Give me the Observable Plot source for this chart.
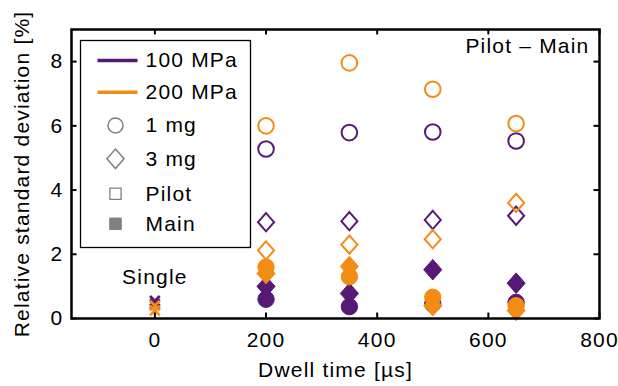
<!DOCTYPE html>
<html>
<head>
<meta charset="utf-8">
<script src="https://cdn.jsdelivr.net/npm/d3@7"></script>
<script src="https://cdn.jsdelivr.net/npm/@observablehq/plot@0.6"></script>
<style>
  html, body { margin: 0; padding: 0; background: #fff; }
</style>
</head>
<body>
<div id="chart"></div>
<script>
// ---- data ----
const xTicks = [0, 200, 400, 600, 800];
const yTicks = [0, 2, 4, 6, 8];
const dwell = [200, 350, 500, 650];

const rsd100_1mg_pilot = [5.28, 5.79, 5.81, 5.53];
const rsd100_3mg_pilot = [3.0, 3.03, 3.07, 3.2];
const rsd100_1mg_main  = [0.6, 0.37, 0.45, 0.5];
const rsd100_3mg_main  = [1.0, 0.78, 1.52, 1.1];

const rsd200_1mg_pilot = [6.0, 7.96, 7.14, 6.07];
const rsd200_3mg_pilot = [2.12, 2.3, 2.47, 3.6];
const rsd200_1mg_main  = [1.6, 1.3, 0.66, 0.4];
const rsd200_3mg_main  = [1.4, 1.62, 0.4, 0.25];

const singleDwell = [0, 0];
const single100 = [0.55, 0.45];
const single200 = [0.4, 0.25];

const pressures = ["100 MPa", "200 MPa"];
const masses = ["1 mg", "3 mg"];
const phases = ["Pilot", "Main"];
const legendLabels = ["100 MPa", "200 MPa", "1 mg", "3 mg", "Pilot", "Main"];
const cornerNote = ["Pilot \u2013 Main"];
const singleNote = [{x: 0, y: 1.28, text: "Single"}];

// ---- styles ----
const colors = {"100 MPa": "#561a76", "200 MPa": "#f28c14"};
const gray = "#808080";
const FONT = 21;

const diamond = {
  draw(ctx, size) {
    const r = Math.sqrt(size / Math.PI);
    const h = r * 1.17, w = r * 1.03;
    ctx.moveTo(0, -h); ctx.lineTo(w, 0); ctx.lineTo(0, h); ctx.lineTo(-w, 0); ctx.closePath();
  }
};
const hline = {
  draw(ctx, size) { ctx.moveTo(-20, 0); ctx.lineTo(20, 0); }
};

const series = [
  {p: "100 MPa", m: "1 mg", ph: "Pilot", v: rsd100_1mg_pilot},
  {p: "100 MPa", m: "3 mg", ph: "Pilot", v: rsd100_3mg_pilot},
  {p: "100 MPa", m: "1 mg", ph: "Main",  v: rsd100_1mg_main},
  {p: "100 MPa", m: "3 mg", ph: "Main",  v: rsd100_3mg_main},
  {p: "200 MPa", m: "1 mg", ph: "Pilot", v: rsd200_1mg_pilot},
  {p: "200 MPa", m: "3 mg", ph: "Pilot", v: rsd200_3mg_pilot},
  {p: "200 MPa", m: "1 mg", ph: "Main",  v: rsd200_1mg_main},
  {p: "200 MPa", m: "3 mg", ph: "Main",  v: rsd200_3mg_main}
];

const seriesMarks = series.map(s => {
  const rows = dwell.map((x, i) => ({x, y: s.v[i]}));
  const filled = s.ph === "Main";
  const isCircle = s.m === "1 mg";
  return Plot.dot(rows, {
    x: "x", y: "y",
    symbol: isCircle ? "circle" : diamond,
    r: filled ? (isCircle ? 8.2 : 8.8) : 7.8,
    fill: filled ? colors[s.p] : "none",
    stroke: colors[s.p],
    strokeWidth: filled ? 1 : 2
  });
});

const singleMarks = [
  Plot.dot(singleDwell.map((x, i) => ({x, y: single100[i]})), {x: "x", y: "y", symbol: "times", r: 4.5, stroke: colors["100 MPa"], strokeWidth: 2.6}),
  Plot.dot(singleDwell.map((x, i) => ({x, y: single200[i]})), {x: "x", y: "y", symbol: "times", r: 4.5, stroke: colors["200 MPa"], strokeWidth: 2.6})
];

// legend rows (pixel offsets from the top-left of the frame)
const rowDy = [31, 62.7, 96, 129.3, 164.3, 194.3];
const legendSymbols = [
  {symbol: hline, stroke: colors["100 MPa"], strokeWidth: 3.5, fill: "none", r: 5},
  {symbol: hline, stroke: colors["200 MPa"], strokeWidth: 3.5, fill: "none", r: 5},
  {symbol: "circle", stroke: gray, strokeWidth: 1.5, fill: "none", r: 7.5},
  {symbol: diamond, stroke: gray, strokeWidth: 1.5, fill: "none", r: 8.3},
  {symbol: "square", stroke: gray, strokeWidth: 1.3, fill: "none", r: 6.3},
  {symbol: "square", stroke: gray, strokeWidth: 1, fill: gray, r: 6.5}
];
const legendMarks = [
  Plot.frame({fill: "white", stroke: "black", strokeWidth: 1.3, insetLeft: 9, insetTop: 11, insetRight: 349, insetBottom: 71}),
  ...legendLabels.map((lab, i) => {
    const s = legendSymbols[i];
    const dx = i < 2 ? 46 : 44;
    return Plot.dot([lab], {frameAnchor: "top-left", dx, dy: rowDy[i], symbol: s.symbol, r: s.r, stroke: s.stroke, strokeWidth: s.strokeWidth, fill: s.fill});
  }),
  ...legendLabels.map((lab, i) =>
    Plot.text([lab], {frameAnchor: "top-left", dx: 74, dy: rowDy[i], text: d => d, textAnchor: "start", lineAnchor: "middle", fontSize: FONT, fill: "black"})
  )
];

const chart = Plot.plot({
  width: 618,
  height: 386,
  marginLeft: 71,
  marginRight: 19,
  marginTop: 29,
  marginBottom: 68,
  style: {fontFamily: "'Liberation Sans', Arial, sans-serif", letterSpacing: "1.2px", background: "white", color: "black"},
  x: {domain: [-150, 800]},
  y: {domain: [0, 9]},
  marks: [
    ...seriesMarks,
    ...singleMarks,
    Plot.text(singleNote, {x: "x", y: "y", text: "text", fontSize: FONT, fill: "black", lineAnchor: "middle"}),
    Plot.text(cornerNote, {frameAnchor: "top-right", dx: -10, dy: 17, text: d => d, textAnchor: "end", lineAnchor: "middle", fontSize: FONT, fill: "black"}),
    ...legendMarks,
    // inward tick marks on all four sides
    Plot.ruleX(xTicks, {x: d => d, y1: 0, y2: 0.17, stroke: "black", strokeWidth: 2}),
    Plot.ruleX(xTicks, {x: d => d, y1: 9, y2: 8.83, stroke: "black", strokeWidth: 2}),
    Plot.ruleY(yTicks, {y: d => d, x1: -150, x2: -140, stroke: "black", strokeWidth: 2}),
    Plot.ruleY(yTicks, {y: d => d, x1: 800, x2: 790, stroke: "black", strokeWidth: 2}),
    Plot.frame({stroke: "black", strokeWidth: 2.5}),
    Plot.axisX({ticks: xTicks, tickSize: 0, tickPadding: 14, fontSize: FONT, label: "Dwell time [\u00b5s]", labelAnchor: "center", labelOffset: 58, labelArrow: "none"}),
    Plot.axisY({ticks: yTicks, tickSize: 0, tickPadding: 8, fontSize: FONT, label: "Relative standard deviation [%]", labelAnchor: "center", labelOffset: 57, labelArrow: "none"})
  ]
});
document.getElementById("chart").appendChild(chart);
</script>
</body>
</html>
